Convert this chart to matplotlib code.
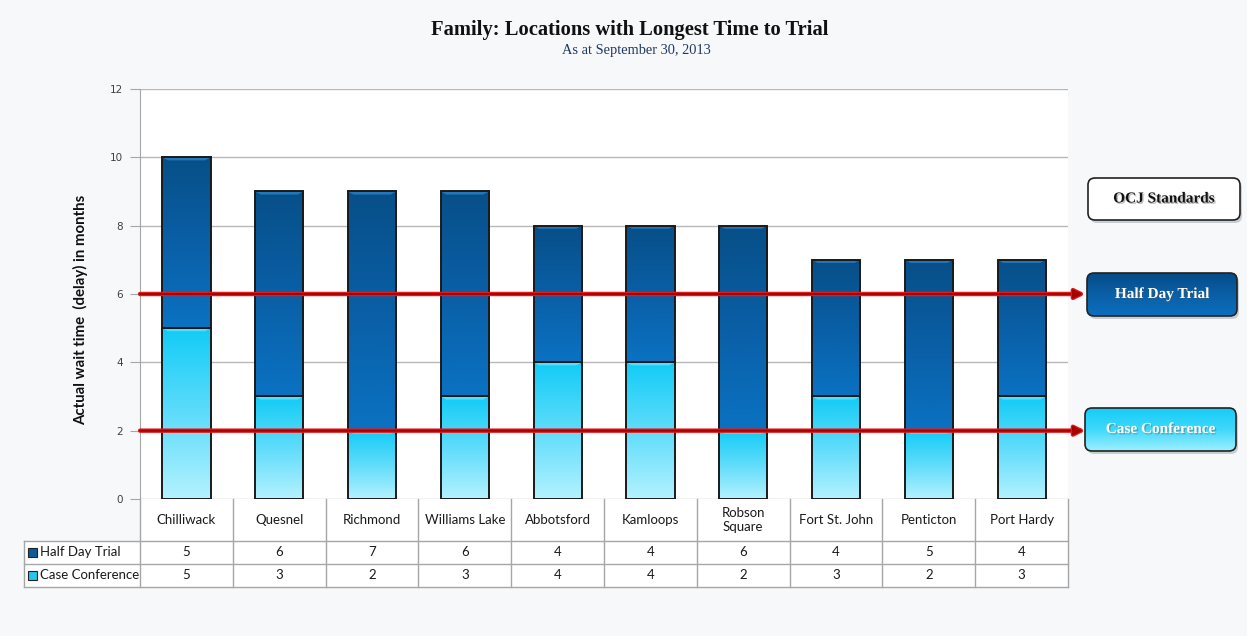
import numpy as np
import matplotlib.pyplot as plt
import matplotlib.patheffects as pe
from matplotlib.colors import LinearSegmentedColormap
from matplotlib.patches import Rectangle, FancyBboxPatch, Polygon
from matplotlib.transforms import blended_transform_factory

# data
locations = ["Chilliwack", "Quesnel", "Richmond", "Williams Lake", "Abbotsford",
             "Kamloops", "Robson\nSquare", "Fort St. John", "Penticton", "Port Hardy"]
half_day_trial = [5, 6, 7, 6, 4, 4, 6, 4, 5, 4]
case_conference = [5, 3, 2, 3, 4, 4, 2, 3, 2, 3]
std_half_day = 6
std_case_conf = 2
y_ticks = [0, 2, 4, 6, 8, 10, 12]

FONT = ["Lato", "DejaVu Sans"]
SERIF = ["Liberation Serif", "DejaVu Serif"]

dark_cmap = LinearSegmentedColormap.from_list("dark", ["#0a72c2", "#0a5fa6", "#074f88"])
light_cmap = LinearSegmentedColormap.from_list("light", ["#b4f2ff", "#5fdcfb", "#12ccf6"])


def gradient_fill(ax, patch, cmap, hilite, zorder=2):
    x, y = patch.get_x(), patch.get_y()
    w, h = patch.get_width(), patch.get_height()
    grad = np.linspace(0, 1, 256).reshape(-1, 1)
    im = ax.imshow(grad, extent=[x, x + w, y, y + h], origin="lower", aspect="auto",
                   cmap=cmap, zorder=zorder, interpolation="bicubic")
    im.set_clip_path(patch)
    # small bevel along the top edge
    top = y + h
    bev = Polygon([(x, top), (x + w, top), (x + w - 0.06, top - 0.09), (x + 0.06, top - 0.09)],
                  closed=True, facecolor=hilite, edgecolor="none", alpha=0.8, zorder=zorder + 0.5)
    ax.add_patch(bev)


fig = plt.figure(figsize=(12.47, 6.36), dpi=100, facecolor="#f6f8fa")
ax = fig.add_axes([0.1123, 0.2154, 0.7442, 0.6447])
ax.set_facecolor("white")

x = np.arange(len(locations))
width = 0.52
bottom_bars = ax.bar(x, case_conference, width, facecolor="none",
                     edgecolor="#1a1a1a", linewidth=1.4, zorder=3)
top_bars = ax.bar(x, half_day_trial, width, bottom=case_conference, facecolor="none",
                  edgecolor="#1a1a1a", linewidth=1.4, zorder=3)
for p in bottom_bars:
    gradient_fill(ax, p, light_cmap, "#5fe4ff")
for p in top_bars:
    gradient_fill(ax, p, dark_cmap, "#2a82c8")

ax.set_xlim(-0.5, len(locations) - 0.5)
ax.set_ylim(0, 12)
ax.set_yticks(y_ticks)
ax.set_xticks([])
ax.yaxis.grid(True, color="#b8b8b8", linewidth=1)
ax.set_axisbelow(True)
for s in ["top", "right", "bottom"]:
    ax.spines[s].set_visible(False)
ax.spines["left"].set_color("#a6a6a6")
ax.tick_params(axis="y", colors="#a6a6a6", length=7, labelsize=7.5, labelcolor="#404040", pad=5)

# standard lines with arrows to the boxes
for val in [std_half_day, std_case_conf]:
    ax.annotate("", xy=(0.8685, val), xycoords=("figure fraction", "data"),
                xytext=(-0.5, val), textcoords="data", annotation_clip=False,
                arrowprops=dict(arrowstyle="-|>", color="#a80000", lw=1.5,
                                mutation_scale=14, shrinkA=0, shrinkB=0,
                                path_effects=[pe.Stroke(linewidth=3.2, foreground="#e41b1b"),
                                              pe.Normal()]),
                zorder=5)

# data table below the axis
trans = blended_transform_factory(ax.transData, ax.transAxes)
rows = [0, -0.1024, -0.1585, -0.2146]
lab_x0 = -1.75
ax.add_patch(Rectangle((-0.5, rows[3]), len(locations), -rows[3], transform=trans,
                       facecolor="white", edgecolor="none", clip_on=False, zorder=1))
ax.add_patch(Rectangle((lab_x0, rows[3]), -0.5 - lab_x0, rows[1] - rows[3], transform=trans,
                       facecolor="white", edgecolor="none", clip_on=False, zorder=1))
lc = "#a6a6a6"
for r in rows[1:]:
    ax.plot([lab_x0, len(locations) - 0.5], [r, r], transform=trans, color=lc, lw=1, clip_on=False)
ax.plot([lab_x0, lab_x0], [rows[1], rows[3]], transform=trans, color=lc, lw=1, clip_on=False)
for b in np.arange(len(locations) + 1) - 0.5:
    ax.plot([b, b], [0, rows[3]], transform=trans, color=lc, lw=1, clip_on=False)

for i, name in enumerate(locations):
    ax.text(i, (rows[0] + rows[1]) / 2, name, transform=trans, ha="center", va="center",
            fontsize=9.5, family=FONT, color="#1a1a1a", linespacing=1.2)
    ax.text(i, (rows[1] + rows[2]) / 2, str(half_day_trial[i]), transform=trans,
            ha="center", va="center", fontsize=9.5, family=FONT, color="#1a1a1a")
    ax.text(i, (rows[2] + rows[3]) / 2, str(case_conference[i]), transform=trans,
            ha="center", va="center", fontsize=9.5, family=FONT, color="#1a1a1a")

for (r0, r1), label, col in [((rows[1], rows[2]), "Half Day Trial", "#0b5a9a"),
                             ((rows[2], rows[3]), "Case Conference", "#22c6ee")]:
    mid = (r0 + r1) / 2
    ax.add_patch(Rectangle((-1.705, mid - 0.011), 0.095, 0.022, transform=trans,
                           facecolor=col, edgecolor="#222222", lw=0.8, clip_on=False, zorder=3))
    ax.text(-1.575, mid, label, transform=trans, ha="left", va="center",
            fontsize=9.5, family=FONT, color="#1a1a1a")

# titles
fig.text(0.5048, 0.953, "Family: Locations with Longest Time to Trial", ha="center", va="center",
         fontsize=14.8, fontweight="bold", family=SERIF, color="#111111")
fig.text(0.51, 0.921, "As at September 30, 2013", ha="center", va="center",
         fontsize=10.4, family=SERIF, color="#1f3864")
fig.text(0.0645, 0.5126, "Actual wait time  (delay) in months", rotation=90, ha="center",
         va="center", fontsize=10.8, fontweight="bold", family=FONT, color="#111111")

# standard boxes on the right
ov = fig.add_axes([0, 0, 1, 1], zorder=10)
ov.axis("off")
ov.patch.set_alpha(0)

boxes = [
    ((1088, 178, 152, 42), "OCJ Standards", None, "#111111"),
    ((1087, 273, 150, 43), "Half Day Trial", LinearSegmentedColormap.from_list("b1", ["#0a6fbf", "#0a5fa6", "#064c86"]), "white"),
    ((1085, 408, 151, 43), "Case Conference", LinearSegmentedColormap.from_list("b2", ["#9ff0ff", "#40d8fb", "#14cdf7"]), "white"),
]
for (bx, by, bw, bh), label, cmap, tcol in boxes:
    shadow = FancyBboxPatch((bx + 2, by + 3), bw, bh, boxstyle="round,pad=0,rounding_size=7",
                            facecolor="#9aa3ab", edgecolor="none", alpha=0.5, zorder=1)
    ov.add_patch(shadow)
    box = FancyBboxPatch((bx, by), bw, bh, boxstyle="round,pad=0,rounding_size=7",
                         facecolor="white" if cmap is None else "none",
                         edgecolor="#222222", lw=1.2, zorder=3)
    ov.add_patch(box)
    if cmap is not None:
        grad = np.linspace(0, 1, 256).reshape(-1, 1)
        im = ov.imshow(grad, extent=[bx, bx + bw, by + bh, by], origin="lower", aspect="auto",
                       cmap=cmap, zorder=2)
        im.set_clip_path(box)
    ov.text(bx + bw / 2, by + bh / 2, label, ha="center", va="center", fontsize=11,
            fontweight="bold", family=SERIF, color=tcol, zorder=4,
            path_effects=[pe.withSimplePatchShadow(offset=(1, -1), shadow_rgbFace="#555555", alpha=0.4)])
ov.set_xlim(0, 1247)
ov.set_ylim(636, 0)

fig.savefig("out.png", dpi=100, facecolor=fig.get_facecolor())
